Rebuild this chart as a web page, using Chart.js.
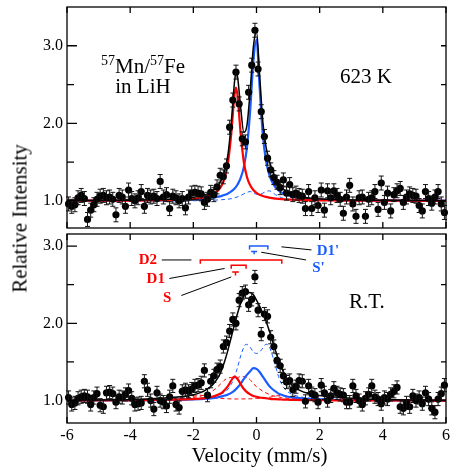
<!DOCTYPE html>
<html lang="en">
<head>
<meta charset="UTF-8">
<title>57Mn/57Fe in LiH</title>
<script src="https://cdn.jsdelivr.net/npm/chart.js"></script>
<style>
  body { margin: 0; background: #fff; }
  #figura { position: relative; width: 450px; height: 472px; overflow: hidden;
            font-family: "Liberation Serif", "DejaVu Serif", serif; color: #000; }
  .caixa { position: absolute; left: 0; width: 450px; }
  #caixaTopo { top: 0; height: 232px; }
  #caixaBaixo { top: 230px; height: 242px; }
  .rotulo { position: absolute; font-size: 21px; line-height: 21px; white-space: nowrap; }
  .rotulo sup { font-size: 14px; line-height: 0; vertical-align: 0; position: relative; top: -8px; }
</style>
</head>
<body>
<div id="figura">
  <div class="caixa" id="caixaTopo"><canvas id="graficoTopo"></canvas></div>
  <div class="caixa" id="caixaBaixo"><canvas id="graficoBaixo"></canvas></div>

  <div class="rotulo" style="left:68px; top:56.4px; width:150px; text-align:center;"><sup>57</sup>Mn/<sup>57</sup>Fe</div>
  <div class="rotulo" style="left:68px; top:76.4px; width:150px; text-align:center;">in LiH</div>
  <div class="rotulo" style="left:340px; top:65.7px;">623 K</div>
  <div class="rotulo" style="left:349px; top:290.7px;">R.T.</div>

  <div class="rotulo" style="left:-90px; top:208px; width:220px; text-align:center; transform:rotate(-90deg);">Relative Intensity</div>
  <div class="rotulo" style="left:159.5px; top:444.9px; width:200px; text-align:center;">Velocity (mm/s)</div>
</div>

<script>
// canais de velocidade (mm/s), iguais nos dois espectros
var velocity = [-5.95,-5.85,-5.75,-5.65,-5.55,-5.45,-5.35,-5.25,-5.15,-5.05,
  -4.95,-4.85,-4.75,-4.65,-4.55,-4.45,-4.35,-4.25,-4.15,-4.05,
  -3.95,-3.85,-3.75,-3.65,-3.55,-3.45,-3.35,-3.25,-3.15,-3.05,
  -2.95,-2.85,-2.75,-2.65,-2.55,-2.45,-2.35,-2.25,-2.15,-2.05,
  -1.95,-1.85,-1.75,-1.65,-1.55,-1.45,-1.35,-1.25,-1.15,-1.05,
  -0.95,-0.85,-0.75,-0.65,-0.55,-0.45,-0.35,-0.25,-0.15,-0.05,
  0.05,0.15,0.25,0.35,0.45,0.55,0.65,0.75,0.85,0.95,
  1.05,1.15,1.25,1.35,1.45,1.55,1.65,1.75,1.85,1.95,
  2.05,2.15,2.25,2.35,2.45,2.55,2.65,2.75,2.85,2.95,
  3.05,3.15,3.25,3.35,3.45,3.55,3.65,3.75,3.85,3.95,
  4.05,4.15,4.25,4.35,4.45,4.55,4.65,4.75,4.85,4.95,
  5.05,5.15,5.25,5.35,5.45,5.55,5.65,5.75,5.85,5.95];

// 623 K
var topCounts = [0.96,0.93,0.95,1.04,1.07,1.03,0.76,0.88,0.95,1.02,
  1.06,1.07,1.04,1.05,1.02,0.82,1.07,1.05,0.93,1.14,
  1.03,1.00,1.04,1.12,0.93,1.07,1.05,1.06,1.03,1.25,
  1.05,1.08,0.90,1.06,1.04,1.00,1.03,0.91,1.05,1.10,
  1.11,1.10,1.09,0.98,1.02,1.11,1.08,1.18,1.33,1.31,
  1.45,1.95,2.30,2.66,2.25,1.80,1.76,2.40,2.75,3.20,
  2.70,2.15,1.83,1.55,1.40,1.30,1.24,1.17,1.27,1.10,
  1.21,1.08,1.10,1.07,1.06,0.90,1.12,0.90,1.04,0.94,
  1.14,0.88,1.13,1.04,1.13,1.07,1.02,0.84,1.05,1.20,
  0.96,0.80,1.04,1.05,0.80,1.02,1.04,1.12,0.89,1.23,
  0.98,1.10,0.87,1.08,1.13,1.16,0.98,1.05,1.09,1.07,
  1.06,0.94,0.87,1.12,1.03,0.97,1.05,1.12,0.96,0.85];

// temperatura ambiente
var bottomCounts = [1.04,0.95,0.97,1.03,1.05,1.06,1.05,0.95,1.04,1.09,
  0.94,0.92,1.10,1.11,1.09,0.98,1.05,1.04,1.08,1.13,
  1.03,0.95,0.96,0.97,1.25,1.14,1.00,0.89,1.10,1.00,
  0.98,0.93,1.05,1.19,0.95,0.91,1.12,1.14,1.12,1.15,
  1.19,1.20,1.23,1.39,1.07,1.25,1.32,1.40,1.44,1.70,
  1.75,1.90,2.05,2.00,2.30,2.39,2.41,2.24,2.31,2.60,
  2.17,1.86,2.12,2.09,1.82,1.70,1.52,1.45,1.32,1.24,
  1.26,1.14,1.18,1.26,1.25,0.99,1.19,1.09,1.07,0.98,
  1.20,1.10,1.00,1.06,1.16,1.10,1.08,1.07,0.98,0.98,
  1.19,1.06,1.00,0.95,1.03,1.08,1.19,1.05,1.02,0.96,
  1.04,1.02,1.08,1.12,1.17,0.92,0.90,0.97,0.92,1.06,
  1.00,1.04,0.96,1.10,1.02,0.90,0.85,1.02,1.09,1.20];

var errTop = 0.09;
var errBottom = 0.085;

// curvas de ajuste, 623 K
var topFitVel = [-6,-4,-3,-2.5,-2,-1.6,-1.4,-1.2,-1.1,-1.0,-0.9,-0.8,-0.7,-0.65,-0.6,-0.5,-0.4,-0.3,-0.2,-0.1,
  0,0.1,0.2,0.3,0.4,0.5,0.6,0.8,1.0,1.2,1.5,2,2.5,3,4,6];
var topFit = [1.004,1.009,1.018,1.026,1.045,1.084,1.126,1.207,1.28,1.40,1.61,2.00,2.52,2.66,2.60,2.20,1.88,1.98,2.42,2.98,
  3.18,2.62,2.02,1.70,1.52,1.39,1.29,1.17,1.11,1.075,1.048,1.026,1.018,1.012,1.007,1.003];
var topS = [1.002,1.004,1.009,1.014,1.026,1.051,1.079,1.141,1.201,1.305,1.498,1.862,2.355,2.46,2.355,1.862,1.498,1.305,1.201,1.141,
  1.104,1.079,1.063,1.051,1.042,1.035,1.030,1.022,1.017,1.014,1.010,1.007,1.005,1.004,1.002,1.001];
var topSPrime = [1.002,1.005,1.009,1.012,1.019,1.030,1.040,1.054,1.064,1.078,1.096,1.121,1.156,1.18,1.210,1.295,1.438,1.695,2.167,2.80,
  3.08,2.46,1.852,1.523,1.343,1.239,1.175,1.104,1.069,1.049,1.032,1.018,1.012,1.008,1.005,1.002];
var topD1Prime = [1.0,1.0,1.0,1.0,1.002,1.005,1.008,1.012,1.015,1.018,1.022,1.028,1.038,1.045,1.052,1.07,1.09,1.11,1.12,1.105,
  1.085,1.085,1.10,1.12,1.13,1.11,1.08,1.04,1.022,1.013,1.006,1.003,1.0,1.0,1.0,1.0];

// curvas de ajuste, temperatura ambiente
var botFitVel = [-6,-4,-3,-2.5,-2.2,-2,-1.8,-1.6,-1.4,-1.2,-1.1,-1.0,-0.9,-0.8,-0.7,-0.6,-0.5,-0.4,-0.33,-0.2,
  -0.1,0,0.1,0.2,0.3,0.4,0.5,0.6,0.7,0.8,0.9,1.0,1.2,1.5,2,2.5,3,4,6];
var botFit = [1.005,1.015,1.03,1.045,1.06,1.075,1.10,1.14,1.20,1.31,1.40,1.52,1.66,1.82,1.98,2.13,2.26,2.35,2.39,2.40,
  2.37,2.30,2.22,2.13,2.03,1.91,1.78,1.65,1.53,1.42,1.33,1.26,1.17,1.11,1.065,1.045,1.03,1.015,1.005];
var botS = [1.0,1.005,1.01,1.013,1.017,1.02,1.025,1.035,1.05,1.08,1.10,1.14,1.19,1.26,1.31,1.28,1.21,1.15,1.12,1.08,
  1.06,1.05,1.04,1.035,1.03,1.025,1.02,1.018,1.016,1.014,1.012,1.011,1.009,1.007,1.005,1.003,1.002,1.001,1.0];
var botSPrime = [1.0,1.004,1.008,1.01,1.013,1.016,1.02,1.025,1.03,1.045,1.055,1.065,1.08,1.10,1.13,1.17,1.22,1.28,1.32,1.38,
  1.42,1.41,1.37,1.31,1.25,1.19,1.15,1.12,1.09,1.075,1.06,1.05,1.038,1.025,1.015,1.01,1.007,1.004,1.0];
var botD1Prime = [1.0,1.005,1.01,1.015,1.02,1.025,1.03,1.04,1.055,1.075,1.09,1.11,1.15,1.21,1.30,1.43,1.58,1.69,1.73,1.69,
  1.63,1.61,1.63,1.68,1.73,1.70,1.59,1.45,1.31,1.21,1.15,1.11,1.07,1.04,1.025,1.015,1.01,1.005,1.0];
var botD1 = [1.0,1.007,1.014,1.022,1.03,1.04,1.055,1.08,1.12,1.19,1.23,1.27,1.29,1.30,1.30,1.30,1.31,1.31,1.30,1.27,
  1.22,1.18,1.15,1.12,1.10,1.08,1.065,1.055,1.047,1.04,1.035,1.03,1.024,1.018,1.012,1.009,1.006,1.003,1.0];
var botD2 = [1.0,1.008,1.015,1.025,1.04,1.055,1.07,1.058,1.04,1.03,1.027,1.025,1.023,1.022,1.021,1.021,1.021,1.022,1.022,1.023,
  1.025,1.027,1.03,1.033,1.037,1.042,1.05,1.058,1.066,1.07,1.065,1.056,1.04,1.027,1.017,1.011,1.008,1.004,1.0];

// eixos
var xTicks = [-6, -4, -2, 0, 2, 4, 6];
var yMajor = [1.0, 2.0, 3.0];
var yMinor = [1.5, 2.5];

var vermelho = '#ff0000';
var azul = '#1a5cff';
var fonte = '"Liberation Serif", "DejaVu Serif", serif';

Chart.defaults.font.family = fonte;
Chart.defaults.color = '#000';

function pares(xs, ys) {
  var out = [];
  for (var i = 0; i < xs.length; i++) {
    out.push({ x: xs[i], y: ys[i] });
  }
  return out;
}

function pontos(ys, erro) {
  return {
    label: 'dados',
    data: pares(velocity, ys),
    erro: erro,
    showLine: false,
    pointRadius: 3.6,
    pointBackgroundColor: '#000',
    pointBorderWidth: 0,
    clip: false,
    order: 0
  };
}

function curva(nome, xs, ys, cor, largura, tracejado, ordem) {
  return {
    label: nome,
    data: pares(xs, ys),
    borderColor: cor,
    borderWidth: largura,
    borderDash: tracejado,
    pointRadius: 0,
    fill: false,
    cubicInterpolationMode: 'monotone',
    order: ordem
  };
}

// barras de erro dos pontos experimentais
var barrasErro = {
  id: 'barrasErro',
  afterDatasetsDraw: function (chart) {
    var ctx = chart.ctx, sx = chart.scales.x, sy = chart.scales.y;
    ctx.save();
    ctx.strokeStyle = '#111';
    ctx.lineWidth = 1;
    chart.data.datasets.forEach(function (ds) {
      if (!ds.erro) return;
      ctx.beginPath();
      ds.data.forEach(function (p) {
        var px = sx.getPixelForValue(p.x);
        var y0 = sy.getPixelForValue(p.y - ds.erro);
        var y1 = sy.getPixelForValue(p.y + ds.erro);
        ctx.moveTo(px, y0); ctx.lineTo(px, y1);
        ctx.moveTo(px - 2.5, y0); ctx.lineTo(px + 2.5, y0);
        ctx.moveTo(px - 2.5, y1); ctx.lineTo(px + 2.5, y1);
      });
      ctx.stroke();
    });
    ctx.restore();
  }
};

// moldura com marcas para dentro
var moldura = {
  id: 'moldura',
  afterDraw: function (chart) {
    var ctx = chart.ctx, a = chart.chartArea;
    var sx = chart.scales.x, sy = chart.scales.y;
    ctx.save();
    ctx.strokeStyle = '#000';
    ctx.lineWidth = 1.3;
    ctx.strokeRect(a.left, a.top, a.right - a.left, a.bottom - a.top);
    ctx.beginPath();
    xTicks.forEach(function (v) {
      var px = sx.getPixelForValue(v);
      ctx.moveTo(px, a.top); ctx.lineTo(px, a.top + 6);
      ctx.moveTo(px, a.bottom); ctx.lineTo(px, a.bottom - 6);
    });
    yMajor.forEach(function (v) {
      var py = sy.getPixelForValue(v);
      ctx.moveTo(a.left, py); ctx.lineTo(a.left + 10, py);
      ctx.moveTo(a.right, py); ctx.lineTo(a.right - 5, py);
    });
    yMinor.forEach(function (v) {
      var py = sy.getPixelForValue(v);
      ctx.moveTo(a.left, py); ctx.lineTo(a.left + 7, py);
      ctx.moveTo(a.right, py); ctx.lineTo(a.right - 5, py);
    });
    ctx.stroke();
    ctx.restore();
  }
};

// posições dos componentes (colchetes) no espectro de baixo
var marcas = {
  colchetes: [
    { x0: -1.78, x1: 0.80, y: 2.82, desce: 0.05, cor: vermelho },
    { x0: -0.80, x1: -0.33, y: 2.75, desce: 0.045, cor: vermelho },
    { x0: -0.22, x1: 0.36, y: 3.00, desce: 0.045, cor: azul }
  ],
  tes: [
    { x0: -0.77, x1: -0.56, y: 2.665, haste: 0.045, cor: vermelho },
    { x0: -0.17, x1: 0.02, y: 2.93, haste: 0.035, cor: azul }
  ],
  guias: [
    [-3.0, 2.82, -2.06, 2.82],
    [-2.76, 2.58, -1.01, 2.71],
    [-2.38, 2.36, -0.80, 2.60],
    [0.79, 2.99, 1.74, 2.95],
    [0.15, 2.92, 1.57, 2.82]
  ],
  textos: [
    { t: 'D2', x: -3.44, y: 2.82, cor: vermelho },
    { t: 'D1', x: -3.19, y: 2.57, cor: vermelho },
    { t: 'S', x: -2.83, y: 2.33, cor: vermelho },
    { t: "D1'", x: 2.26, y: 2.94, cor: azul },
    { t: "S'", x: 1.96, y: 2.71, cor: azul }
  ]
};

var componentes = {
  id: 'componentes',
  afterDatasetsDraw: function (chart) {
    var ctx = chart.ctx, sx = chart.scales.x, sy = chart.scales.y;
    function X(v) { return sx.getPixelForValue(v); }
    function Y(v) { return sy.getPixelForValue(v); }
    ctx.save();
    ctx.lineWidth = 1.5;
    marcas.colchetes.forEach(function (c) {
      ctx.strokeStyle = c.cor;
      ctx.beginPath();
      ctx.moveTo(X(c.x0), Y(c.y - c.desce));
      ctx.lineTo(X(c.x0), Y(c.y));
      ctx.lineTo(X(c.x1), Y(c.y));
      ctx.lineTo(X(c.x1), Y(c.y - c.desce));
      ctx.stroke();
    });
    marcas.tes.forEach(function (t) {
      var meio = (t.x0 + t.x1) / 2;
      ctx.strokeStyle = t.cor;
      ctx.beginPath();
      ctx.moveTo(X(t.x0), Y(t.y)); ctx.lineTo(X(t.x1), Y(t.y));
      ctx.moveTo(X(meio), Y(t.y)); ctx.lineTo(X(meio), Y(t.y - t.haste));
      ctx.stroke();
    });
    ctx.strokeStyle = '#000';
    ctx.lineWidth = 1;
    ctx.beginPath();
    marcas.guias.forEach(function (g) {
      ctx.moveTo(X(g[0]), Y(g[1])); ctx.lineTo(X(g[2]), Y(g[3]));
    });
    ctx.stroke();
    ctx.font = 'bold 15px ' + fonte;
    ctx.textAlign = 'center';
    ctx.textBaseline = 'middle';
    marcas.textos.forEach(function (t) {
      ctx.fillStyle = t.cor;
      ctx.fillText(t.t, X(t.x), Y(t.y));
    });
    ctx.restore();
  }
};

function opcoes(ymin, ymax, mostrarX, padding) {
  return {
    responsive: true,
    maintainAspectRatio: false,
    animation: false,
    events: [],
    layout: { padding: padding },
    plugins: { legend: { display: false }, tooltip: { enabled: false } },
    scales: {
      x: {
        type: 'linear', min: -6, max: 6, display: mostrarX,
        grid: { display: false, drawTicks: false },
        border: { display: false },
        ticks: {
          font: { size: 16 }, color: '#000', padding: 3, maxRotation: 0,
          callback: function (v) { return String(v); }
        },
        afterBuildTicks: function (s) {
          s.ticks = xTicks.map(function (v) { return { value: v }; });
        },
        afterFit: function (s) {
          if (s.options.display) s.height = 49;
          s.paddingLeft = 0; s.paddingRight = 0;
        }
      },
      y: {
        type: 'linear', min: ymin, max: ymax,
        grid: { display: false, drawTicks: false },
        border: { display: false },
        ticks: {
          font: { size: 16 }, color: '#000', padding: 4,
          callback: function (v) { return v.toFixed(1); }
        },
        afterBuildTicks: function (s) {
          s.ticks = yMajor.map(function (v) { return { value: v }; });
        },
        afterFit: function (s) {
          s.width = 67;
          s.paddingTop = 0; s.paddingBottom = 0;
        }
      }
    }
  };
}

// espectro a 623 K
new Chart(document.getElementById('graficoTopo'), {
  type: 'line',
  data: {
    datasets: [
      pontos(topCounts, errTop),
      curva('ajuste', topFitVel, topFit, '#000', 1.5, [], 1),
      curva('S', topFitVel, topS, vermelho, 2.2, [], 2),
      curva("S'", topFitVel, topSPrime, azul, 2.2, [], 3),
      curva("D1'", topFitVel, topD1Prime, azul, 1, [4, 3], 4)
    ]
  },
  options: opcoes(0.65, 3.5, false, { top: 7, right: 2, bottom: 2, left: 0 }),
  plugins: [barrasErro, moldura]
});

// espectro a temperatura ambiente
new Chart(document.getElementById('graficoBaixo'), {
  type: 'line',
  data: {
    datasets: [
      pontos(bottomCounts, errBottom),
      curva('ajuste', botFitVel, botFit, '#000', 1.5, [], 1),
      curva('S', botFitVel, botS, vermelho, 2.2, [], 2),
      curva("S'", botFitVel, botSPrime, azul, 2.2, [], 3),
      curva("D1'", botFitVel, botD1Prime, azul, 1, [4, 3], 4),
      curva('D1', botFitVel, botD1, vermelho, 1, [4, 3], 5),
      curva('D2', botFitVel, botD2, vermelho, 1, [4, 3], 6)
    ]
  },
  options: opcoes(0.71, 3.156, true, { top: 0, right: 2, bottom: 0, left: 0 }),
  plugins: [barrasErro, moldura, componentes]
});
</script>
</body>
</html>
